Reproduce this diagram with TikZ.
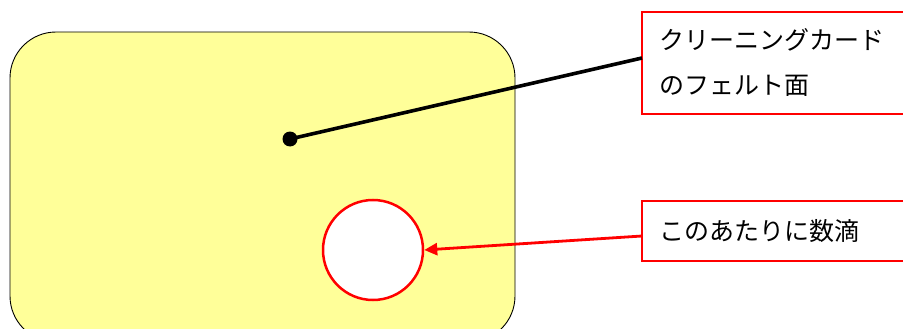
\documentclass[tikz,border=0pt]{standalone}
\usepackage{fontspec}
\setmainfont{Noto Sans CJK JP}
\usetikzlibrary{arrows.meta}
\definecolor{cardyellow}{RGB}{255,255,153}
\tikzset{
  redbox/.style={draw=red, line width=2.5pt},
  jp/.style={font=\fontsize{25}{45}\selectfont, inner sep=0pt}
}
\begin{document}
\begin{tikzpicture}[x=1pt,y=-1pt]
\useasboundingbox (0,0) rectangle (903,329);
\begin{scope}
\clip (0,0) rectangle (903,329);
\draw[fill=cardyellow, draw=black, line width=0.9pt, rounded corners=46pt] (10,32) rectangle (515,342);
\node[draw=red, line width=2.5pt, fill=white, circle, minimum size=100pt, inner sep=0pt] (drop) at (373,250) {};
\fill (290,139) circle (7.5pt) coordinate (dot);
\draw[redbox] (642,12) rectangle (904,114);
\node[jp, anchor=north west, align=left] (t1) at (659,28) {クリーニングカード\\のフェルト面};
\coordinate (b1) at (642,58);
\draw[redbox] (642,201) rectangle (904,261);
\node[jp, anchor=west] (t2) at (659,231) {このあたりに数滴};
\coordinate (b2) at (642,236);
\draw[line width=3.6pt] (dot) -- (b1);
\draw[red, line width=2.8pt, -{Triangle[length=13pt,width=12pt]}] (b2) -- (drop.east);
\end{scope}
\end{tikzpicture}
\end{document}
